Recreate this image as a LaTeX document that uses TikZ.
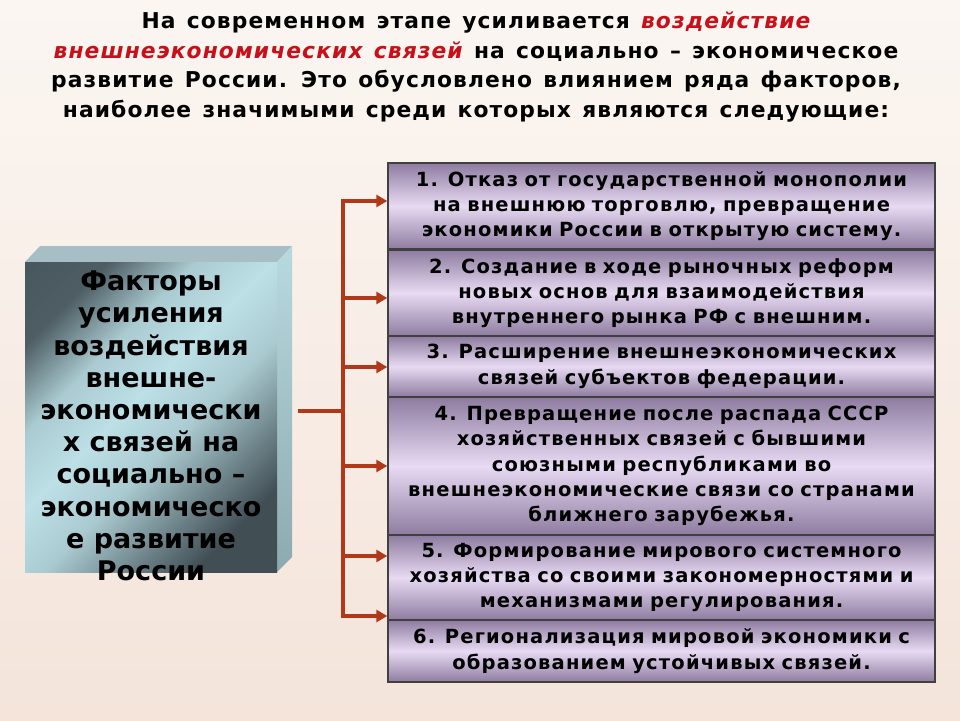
\documentclass[tikz,border=0pt]{standalone}
\usepackage{fontspec}
\usepackage{tikz}
\usetikzlibrary{arrows.meta}
\setmainfont{DejaVu Sans}
\newfontfamily\titlefont{DejaVu Sans}[LetterSpace=5,WordSpace=1.3]
\newfontfamily\itemfont{DejaVu Sans}[LetterSpace=6,WordSpace=1.5]
\definecolor{bgtop}{HTML}{FBF6F2}
\definecolor{bgbot}{HTML}{F4E4DA}
\definecolor{redtxt}{HTML}{C8101A}
\definecolor{linkred}{HTML}{B2381A}
\definecolor{cubedark}{HTML}{414F55}
\definecolor{cubelight}{HTML}{BCE0E6}
\definecolor{cubetop}{HTML}{A6BEC4}
\definecolor{cubeside}{HTML}{9FC0C6}
\definecolor{itemedge}{HTML}{8E7CA0}
\definecolor{itemmid}{HTML}{E8DAF3}
\pgfdeclarehorizontalshading{cubeshade}{100bp}{color(0bp)=(cubedark); color(25bp)=(cubedark!90!cubelight); color(36bp)=(cubelight!85!cubedark); color(46bp)=(cubelight); color(56bp)=(cubelight!85!cubedark); color(66bp)=(cubedark!60!cubelight); color(75bp)=(cubedark); color(100bp)=(cubedark)}
\tikzstyle{factor}=[draw=black!75,line width=1.4pt,minimum width=547pt,top color=itemedge,bottom color=itemedge,middle color=itemmid,text width=540pt,align=center,inner sep=0pt,font=\itemfont\bfseries\fontsize{19.5}{25.3}\selectfont]
\tikzstyle{link}=[draw=linkred,line width=3.6pt]
\tikzstyle{linkarrow}=[link,-{Triangle[length=11pt,width=12pt]}]

\begin{document}
\begin{tikzpicture}[x=1pt,y=-1pt]
    \shade[top color=bgtop,bottom color=bgbot] (0,0) rectangle (960,720);
    \useasboundingbox (0,0) rectangle (960,720);
    \node[align=center,font=\titlefont\bfseries\fontsize{21.8}{29.7}\selectfont] (title) at (476,67)
        {На современном этапе усиливается \textcolor{redtxt}{\itshape воздействие}\\
         \textcolor{redtxt}{\itshape внешнеэкономических связей} на социально – экономическое\\
         развитие России. Это обусловлено влиянием ряда факторов,\\
         наиболее значимыми среди которых являются следующие:};
    \fill[cubetop] (25,262) -- (40,246) -- (292,246) -- (277,262) -- cycle;
    \shade[top color=cubelight!80!cubetop,bottom color=cubeside!80!cubedark] (277,262) -- (292,246) -- (292,557) -- (277,572) -- cycle;
    \shade[shading=cubeshade,shading angle=-45] (25,262) rectangle (277,572);
    \node[align=center,font=\bfseries\fontsize{27}{32.2}\selectfont] (main) at (151,426)
        {Факторы\\ усиления\\ воздействия\\ внешне-\\ экономически\\ х связей на\\ социально –\\ экономическо\\ е развитие\\ России};
    \node[factor,minimum height=86pt] (f1) at (661.5,206)
        {1. Отказ от государственной монополии\\ на внешнюю торговлю, превращение\\ экономики России в открытую систему.};
    \node[factor,minimum height=86pt] (f2) at (661.5,293)
        {2. Создание в ходе рыночных реформ\\ новых основ для взаимодействия\\ внутреннего рынка РФ с внешним.};
    \node[factor,minimum height=61pt] (f3) at (661.5,366.5)
        {3. Расширение внешнеэкономических\\ связей субъектов федерации.};
    \node[factor,minimum height=138pt] (f4) at (661.5,466)
        {4. Превращение после распада СССР\\ хозяйственных связей с бывшими\\ союзными республиками во\\ внешнеэкономические связи со странами\\ ближнего зарубежья.};
    \node[factor,minimum height=85pt] (f5) at (661.5,577.5)
        {5. Формирование мирового системного\\ хозяйства со своими закономерностями и\\ механизмами регулирования.};
    \node[factor,minimum height=62pt] (f6) at (661.5,651)
        {6. Регионализация мировой экономики с\\ образованием устойчивых связей.};
    \coordinate (src) at (298,411);
    \coordinate (hub) at (343,411);
    \coordinate (t1) at (343,201);
    \coordinate (t2) at (343,298);
    \coordinate (t3) at (343,367);
    \coordinate (t4) at (343,466);
    \coordinate (t5) at (343,556);
    \coordinate (t6) at (343,616);
    \draw[link] (src) -- (hub);
    \draw[link,line cap=rect] (t1) -- (t6);
    \draw[linkarrow] (t1) -- (t1 -| f1.west);
    \draw[linkarrow] (t2) -- (t2 -| f2.west);
    \draw[linkarrow] (t3) -- (t3 -| f3.west);
    \draw[linkarrow] (t4) -- (t4 -| f4.west);
    \draw[linkarrow] (t5) -- (t5 -| f5.west);
    \draw[linkarrow] (t6) -- (t6 -| f5.west);
\end{tikzpicture}
\end{document}
